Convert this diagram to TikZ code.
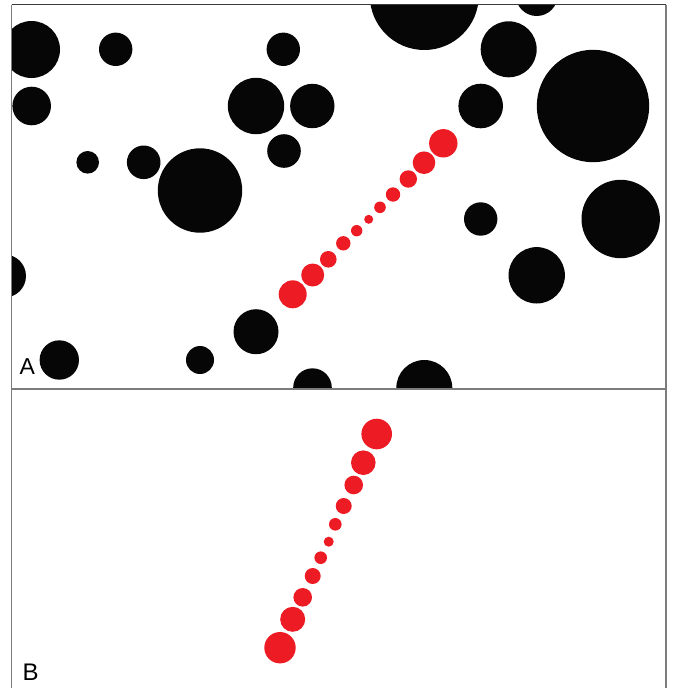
\documentclass[tikz,border=0pt]{standalone}
\usepackage{fontspec}
\setmainfont{Liberation Sans}
\usetikzlibrary{positioning}
\definecolor{dotred}{HTML}{ED1C24}
\definecolor{blob}{HTML}{060606}
\definecolor{framegray}{HTML}{7C7C7C}
\definecolor{framedark}{HTML}{3A3A3A}

\begin{document}
\begin{tikzpicture}[x=1pt,y=-1pt]
\useasboundingbox (0,0) rectangle (673,688);

% Panel A: black discs
\begin{scope}
\clip (11.7,4.5) rectangle (666,389);
\fill[blob] (31.5,49.5) circle (28.5pt);
\fill[blob] (115.7,49.3) circle (16.7pt);
\fill[blob] (283.3,49.3) circle (16.7pt);
\fill[blob] (31.7,106) circle (19.3pt);
\fill[blob] (256,106) circle (28.2pt);
\fill[blob] (312.3,106) circle (22.2pt);
\fill[blob] (284,151) circle (16.8pt);
\fill[blob] (87.7,162.3) circle (11.3pt);
\fill[blob] (143.7,162.3) circle (16.8pt);
\fill[blob] (200,190.5) circle (42.2pt);
\fill[blob] (424.3,-4.5) circle (54.5pt);
\fill[blob] (536.7,-5) circle (21pt);
\fill[blob] (508.7,49.3) circle (28pt);
\fill[blob] (480.7,106) circle (22.3pt);
\fill[blob] (593,106) circle (56.2pt);
\fill[blob] (620.7,219) circle (39.2pt);
\fill[blob] (480.7,219) circle (16.7pt);
\fill[blob] (536.7,275.3) circle (28.2pt);
\fill[blob] (4.5,276) circle (21.5pt);
\fill[blob] (59.3,360) circle (19.7pt);
\fill[blob] (200,360) circle (14pt);
\fill[blob] (256,331.7) circle (22.5pt);
\fill[blob] (312.5,387.6) circle (19.3pt);
\fill[blob] (424.3,388) circle (28pt);

% Panel A: red dots
\fill[dotred] (292.7,294.3) circle (14pt);
\fill[dotred] (312.7,275) circle (11.5pt);
\fill[dotred] (328.3,259.3) circle (8.3pt);
\fill[dotred] (343.3,243.3) circle (7.2pt);
\fill[dotred] (356.7,230.7) circle (5.7pt);
\fill[dotred] (368.7,219.3) circle (4.5pt);
\fill[dotred] (380,207.3) circle (5.8pt);
\fill[dotred] (393,194.5) circle (7.2pt);
\fill[dotred] (408.3,179) circle (8.7pt);
\fill[dotred] (424,162.7) circle (11.3pt);
\fill[dotred] (443.3,143.3) circle (14.2pt);
\end{scope}

% Panel B: red dots only
\fill[dotred] (376.7,434) circle (15.3pt);
\fill[dotred] (363.3,462.7) circle (12.3pt);
\fill[dotred] (353.7,485) circle (9.3pt);
\fill[dotred] (343.7,506) circle (8pt);
\fill[dotred] (335.3,524.3) circle (6.3pt);
\fill[dotred] (328.7,541.7) circle (5pt);
\fill[dotred] (320.7,557.7) circle (6.3pt);
\fill[dotred] (312.7,576) circle (8pt);
\fill[dotred] (302.7,597.3) circle (9.3pt);
\fill[dotred] (292.7,619.3) circle (12.5pt);
\fill[dotred] (280,647.7) circle (15.7pt);

% Frames
\draw[framedark, line width=1.2pt] (11.7,4.5) -- (666,4.5);
\draw[framegray, line width=1.2pt] (11.7,4.5) -- (11.7,688);
\draw[framegray, line width=1.2pt] (666,4.5) -- (666,688);
\draw[framegray, line width=1.2pt] (11.7,389) -- (666,389);

% Panel labels
\node[anchor=base west, inner sep=0pt, font=\fontsize{23}{23}\selectfont] (labA) at (19.5,374) {A};
\node[anchor=base west, inner sep=0pt, font=\fontsize{24}{24}\selectfont] (labB) at (22.5,680) {B};
\end{tikzpicture}
\end{document}
